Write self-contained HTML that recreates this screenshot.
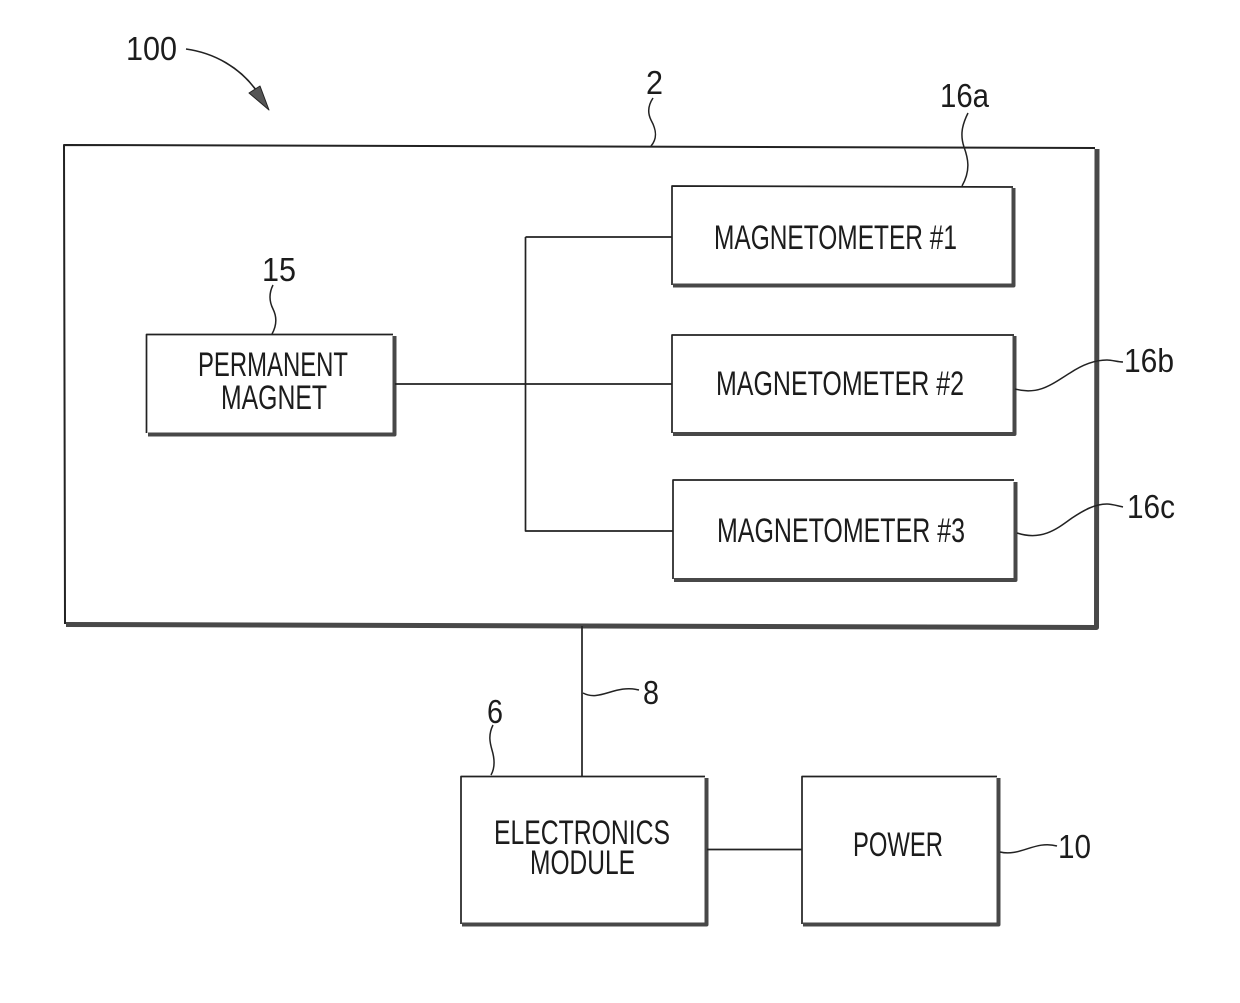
<!DOCTYPE html>
<html><head><meta charset="utf-8"><style>
html,body{margin:0;padding:0;background:#fff}
svg{display:block}
text{font-family:"Liberation Sans",sans-serif;fill:#1c1c1c}
.b{font-size:34px}
.l{font-size:33px}
</style></head><body>
<svg width="1240" height="1003" viewBox="0 0 1240 1003" xmlns="http://www.w3.org/2000/svg">
<g fill="none" stroke="#222" stroke-width="1.7" stroke-linejoin="round">
<path d="M1095 148L64 145L65 624" stroke-width="2"/>
<path d="M66 624.500L1096.500 627.500L1097 149" stroke="#484848" stroke-width="5"/>
<path d="M1013 187L672 186V285"/>
<path d="M673 285.500H1013.500V188" stroke="#484848" stroke-width="4"/>
<path d="M1014 335H672V433"/>
<path d="M673 434H1014.500V336" stroke="#484848" stroke-width="4"/>
<path d="M1014 480H673V579"/>
<path d="M674 580H1015.500V482" stroke="#484848" stroke-width="4"/>
<path d="M393 334.500H146.500V433"/>
<path d="M148 434.500H394.500V336" stroke="#484848" stroke-width="4"/>
<path d="M705 776.500H461V924"/>
<path d="M462 924.500H706.500V778" stroke="#484848" stroke-width="4"/>
<path d="M997 776.500H802V924"/>
<path d="M803 924.500H998.500V778" stroke="#484848" stroke-width="4"/>
<path d="M395 384H672M525.500 237H672M525.500 237V531H673M582 626V776M707 849.500H802"/>
<path d="M186 49C215 53 240 68 256 90" stroke-width="1.600"/>
<path d="M269 110L249 93L260 86Z" fill="#555" stroke="#222" stroke-width="1"/>
<path stroke-width="1.500" d="M653 98C647 107 648 114 651 120C656 129 658 138 651 146M968 113C962 125 960 135 964 147C968 158 971 170 962 186M273 285C268 295 270 303 273 309C277 317 277 325 272 334M1015 389C1040 396 1055 382 1070 373C1082 365 1095 360 1107 360C1112 360 1118 362 1123 362M1017 533C1042 541 1057 529 1072 518C1084 510 1095 504 1107 504C1112 504 1118 506 1123 507M583 693C600 702 615 684 639 690M493 725C488 735 490 743 492 750C495 760 495 768 491 775M1000 852C1020 857 1035 840 1057 846"/>
</g>
<text class="b" x="714" y="249" textLength="243" lengthAdjust="spacingAndGlyphs">MAGNETOMETER #1</text>
<text class="b" x="716" y="395" textLength="248" lengthAdjust="spacingAndGlyphs">MAGNETOMETER #2</text>
<text class="b" x="717" y="542" textLength="248" lengthAdjust="spacingAndGlyphs">MAGNETOMETER #3</text>
<text class="b" x="198" y="376" textLength="150" lengthAdjust="spacingAndGlyphs">PERMANENT</text>
<text class="b" x="221" y="409" textLength="106" lengthAdjust="spacingAndGlyphs">MAGNET</text>
<text class="b" x="494" y="844" textLength="176" lengthAdjust="spacingAndGlyphs">ELECTRONICS</text>
<text class="b" x="530" y="874" textLength="105" lengthAdjust="spacingAndGlyphs">MODULE</text>
<text class="b" x="853" y="856" textLength="90" lengthAdjust="spacingAndGlyphs">POWER</text>
<text class="l" x="126" y="60" textLength="51" lengthAdjust="spacingAndGlyphs">100</text>
<text class="l" x="646" y="94" textLength="17" lengthAdjust="spacingAndGlyphs">2</text>
<text class="l" x="940" y="107" textLength="49" lengthAdjust="spacingAndGlyphs">16a</text>
<text class="l" x="262" y="281" textLength="34" lengthAdjust="spacingAndGlyphs">15</text>
<text class="l" x="1124" y="372" textLength="50" lengthAdjust="spacingAndGlyphs">16b</text>
<text class="l" x="1127" y="518" textLength="48" lengthAdjust="spacingAndGlyphs">16c</text>
<text class="l" x="643" y="704" textLength="16" lengthAdjust="spacingAndGlyphs">8</text>
<text class="l" x="487" y="723" textLength="16" lengthAdjust="spacingAndGlyphs">6</text>
<text class="l" x="1058" y="858" textLength="33" lengthAdjust="spacingAndGlyphs">10</text>
</svg>
</body></html>
